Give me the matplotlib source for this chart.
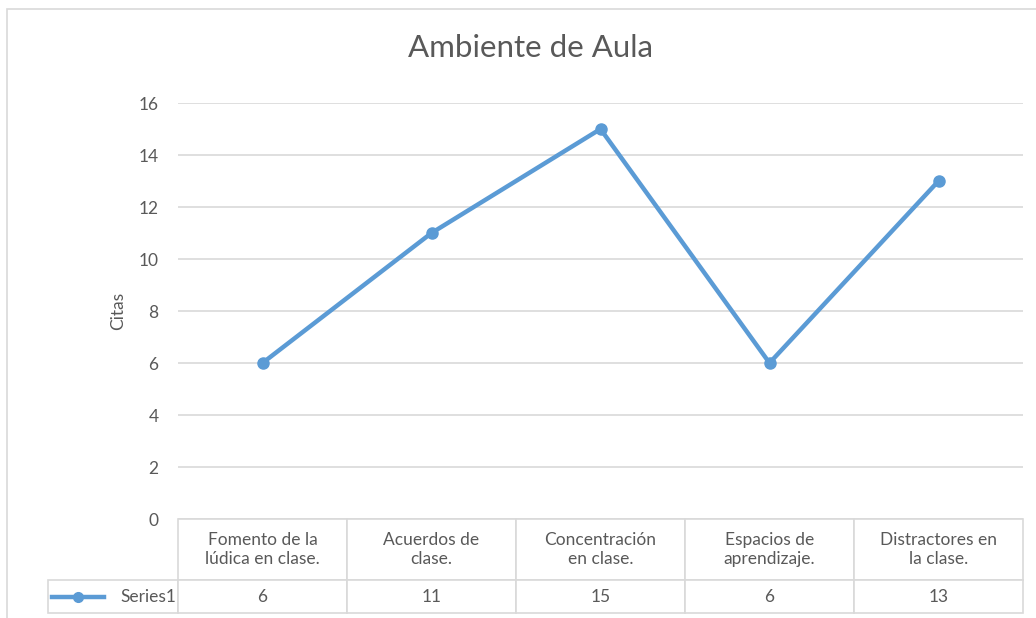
import matplotlib.pyplot as plt
from matplotlib.lines import Line2D
from matplotlib.patches import Rectangle

plt.rcParams['font.family'] = ['Lato', 'DejaVu Sans']

categorias = ['Fomento de la\nlúdica en clase.', 'Acuerdos de\nclase.',
              'Concentración\nen clase.', 'Espacios de\naprendizaje.',
              'Distractores en\nla clase.']
citas = [6, 11, 15, 6, 13]
serie = 'Series1'
yticks = [0, 2, 4, 6, 8, 10, 12, 14, 16]

azul = '#5B9BD5'
gris_txt = '#595959'
gris_lin = '#D9D9D9'

W, H = 1036, 618
fig = plt.figure(figsize=(W / 100, H / 100), dpi=100)

# marco del gráfico
fig.patches.append(Rectangle((7 / W, -0.1), 1.2, 1 - 9.5 / H + 0.1,
                             transform=fig.transFigure, fill=False,
                             edgecolor=gris_lin, linewidth=1.2))

x0, x1 = 178, 1023
y0, y1 = 519, 103
ax = fig.add_axes([x0 / W, 1 - y0 / H, (x1 - x0) / W, (y0 - y1) / H])

x = list(range(len(citas)))
ax.plot(x, citas, color=azul, linewidth=3.2, marker='o', markersize=8,
        solid_capstyle='round', zorder=3)

ax.set_xlim(-0.5, len(citas) - 0.5)
ax.set_ylim(0, 16)
ax.set_yticks(yticks)
ax.set_xticks([])
ax.grid(axis='y', color=gris_lin, linewidth=1.2)
ax.set_axisbelow(True)
for s in ax.spines.values():
    s.set_visible(False)
ax.tick_params(axis='y', length=0, pad=14, labelsize=12.5, labelcolor=gris_txt)
ax.set_ylabel('Citas', fontsize=12.5, color=gris_txt, labelpad=9)

fig.text(530 / W, 1 - 48 / H, 'Ambiente de Aula', fontsize=22.5,
         color=gris_txt, ha='center', va='center')

# tabla de datos debajo del eje; la primera columna lleva el nombre de la serie
alto = (y0 - y1)
ancho = (x1 - x0)
izq = (48 - x0) / ancho
tabla = ax.table(cellText=[[serie] + [str(v) for v in citas]],
                 colLabels=[''] + categorias, cellLoc='center',
                 bbox=[izq, -(613 - y0) / alto, 1 - izq, (613 - y0) / alto])
tabla.auto_set_font_size(False)
for (r, c), celda in tabla.get_celld().items():
    celda.set_edgecolor(gris_lin)
    celda.set_linewidth(1.2)
    celda.get_text().set_color(gris_txt)
    celda.get_text().set_fontsize(12.5)
    celda.set_width(x0 - 48 if c == 0 else ancho / len(citas))
    celda.set_height(61 if r == 0 else 33)
tabla[0, 0].visible_edges = 'open'
tabla[1, 0].get_text().set_horizontalalignment('right')
tabla[1, 0].PAD = 0.01

# símbolo de la serie en la tabla
yl = -(597 - y0) / alto
ax.add_line(Line2D([(52 - x0) / ancho, (104 - x0) / ancho], [yl, yl],
                   transform=ax.transAxes, color=azul, linewidth=3.2,
                   clip_on=False))
ax.add_line(Line2D([(78 - x0) / ancho], [yl], transform=ax.transAxes,
                   color=azul, marker='o', markersize=7, clip_on=False))

fig.savefig('out.png', dpi=100)
